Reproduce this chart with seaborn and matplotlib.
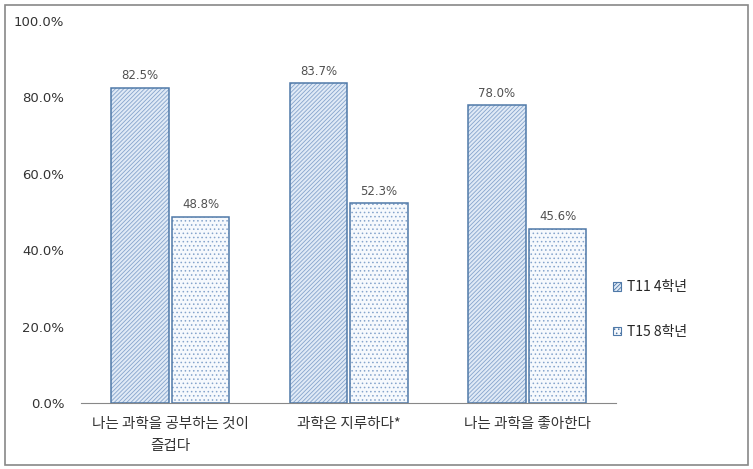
import pandas as pd
import seaborn as sns
import matplotlib
matplotlib.use("Agg")
import matplotlib.pyplot as plt
from matplotlib.patches import Rectangle

# data
categories = ["나는 과학을 공부하는 것이\n즐겁다", "과학은 지루하다*", "나는 과학을 좋아한다"]
series = ["T11 4학년", "T15 8학년"]
t11 = [82.5, 83.7, 78.0]
t15 = [48.8, 52.3, 45.6]

df = pd.DataFrame({
    "cat": categories * 2,
    "grp": [series[0]] * 3 + [series[1]] * 3,
    "val": t11 + t15,
})

sns.set_style("white")
plt.rcParams['font.family'] = ['Noto Sans CJK KR', 'DejaVu Sans']
plt.rcParams['hatch.linewidth'] = 0.6

fig = plt.figure(figsize=(7.53, 4.69), dpi=100)
ax = fig.add_axes([0.1076, 0.1407, 0.711, 0.8143])

edge = "#4f79a8"
hatch_col = "#85a4cc"
fills = ["#e0eaf6", "#f6f9fd"]
hatches = ["////////", "...."]

# filled + hatched bars
sns.barplot(data=df, x="cat", y="val", hue="grp", ax=ax, width=0.68,
            gap=0.05, legend=True)
for i, cont in enumerate(ax.containers):
    for p in cont:
        p.set_facecolor(fills[i])
        p.set_edgecolor(hatch_col)
        p.set_hatch(hatches[i])
        p.set_linewidth(0)
h, l = ax.get_legend_handles_labels()

# outlines on top
sns.barplot(data=df, x="cat", y="val", hue="grp", ax=ax, width=0.68,
            gap=0.05, legend=False, fill=False, palette=[edge, edge], linewidth=1.1)

for cont in ax.containers[:2]:
    ax.bar_label(cont, labels=[f"{v:.1f}%" for v in cont.datavalues],
                 padding=4, fontsize=8.5, color="#505050", family="DejaVu Sans")

ax.set_ylim(0, 100)
ax.set_xlim(-0.5, 2.5)
ax.set_yticks([0, 20, 40, 60, 80, 100])
ax.set_yticklabels([f"{v:.1f}%" for v in [0, 20, 40, 60, 80, 100]], fontsize=9.5,
                   family="DejaVu Sans", color="#333333")
ax.set_xticks([0, 1, 2])
ax.set_xticklabels(categories, fontsize=10.5, color="#333333", linespacing=1.7)
ax.set_xticks([-0.5, 0.5, 1.5, 2.5], minor=True)
ax.tick_params(axis="x", which="major", length=0, pad=10)
ax.tick_params(axis="x", which="minor", length=4, color="#888888", direction="out")
ax.tick_params(axis="y", length=0, pad=12)
ax.set_xlabel("")
ax.set_ylabel("")
for s in ["top", "right", "left"]:
    ax.spines[s].set_visible(False)
ax.spines["bottom"].set_color("#888888")

for i, hh in enumerate(h):
    hh.set_facecolor(fills[i])
    hh.set_edgecolor(edge)
    hh.set_hatch(hatches[i])
    hh.set_linewidth(0.8)
ax.legend(h, l, loc="center left", bbox_to_anchor=(0.797, 0.34),
          bbox_transform=fig.transFigure, frameon=False, fontsize=10,
          handlelength=0.6, handleheight=0.6, handletextpad=0.4,
          labelspacing=2.2)

fig.patches.append(Rectangle((0.006, 0.008), 0.988, 0.982, transform=fig.transFigure,
                             fill=False, edgecolor="#888888", linewidth=1.2))

fig.savefig("out.png", dpi=100)
